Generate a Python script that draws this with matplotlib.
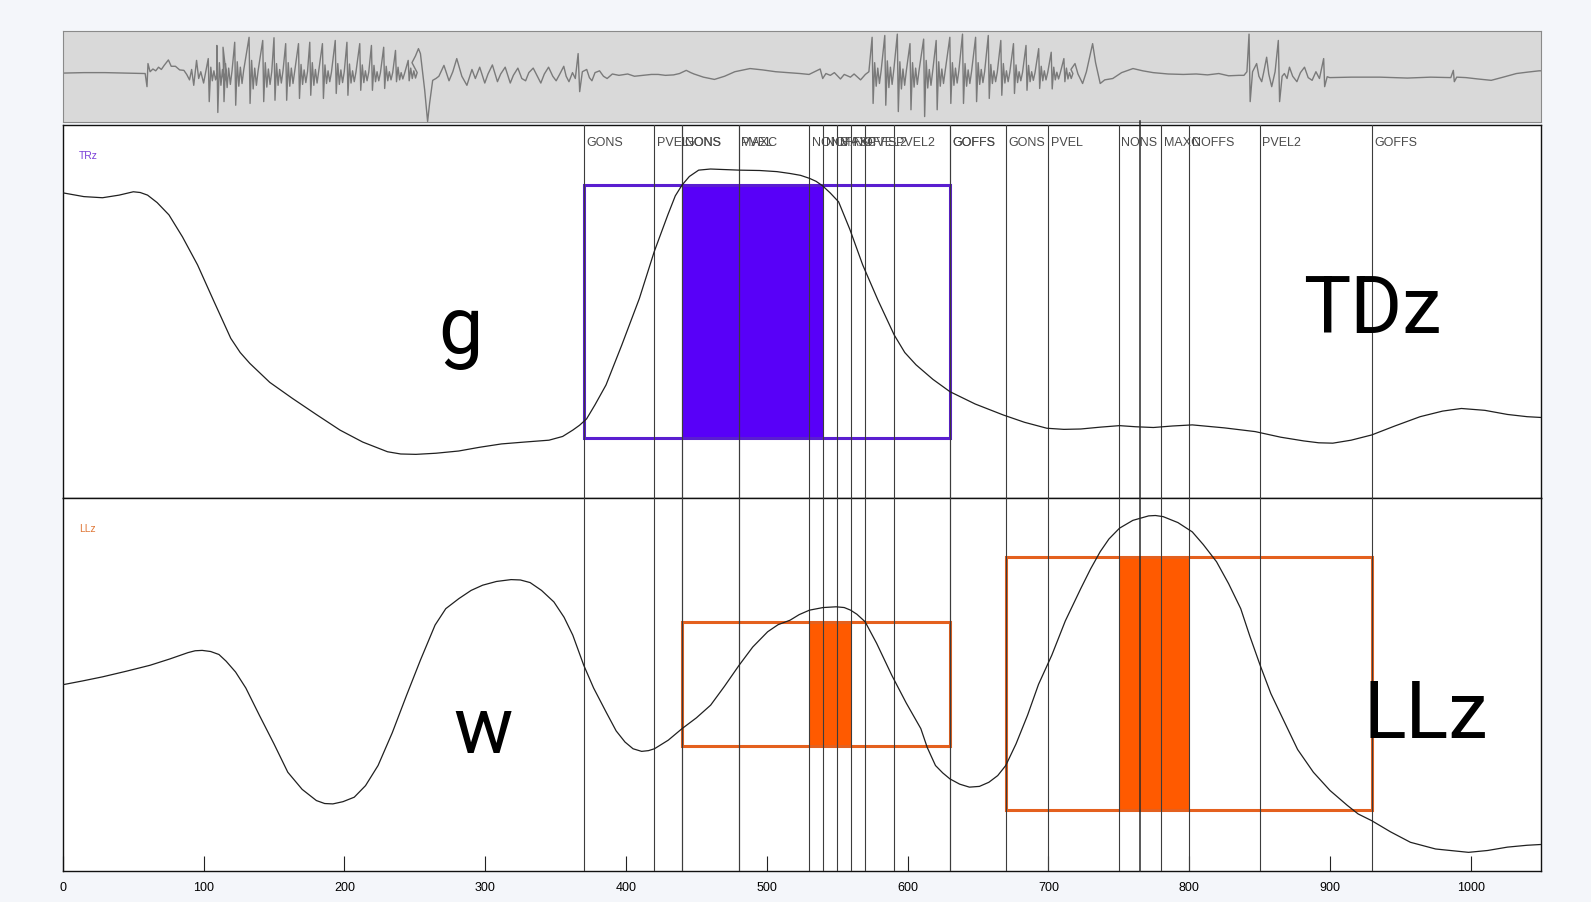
import numpy as np
import matplotlib.pyplot as plt
from matplotlib.patches import Rectangle
from matplotlib.lines import Line2D

# ---- donnees ----
# courbe TRz (x en ms, hauteur relative du panneau 0..1)
trz_x = [0.2, 15, 28.2, 40, 50.1, 55, 60.2, 67, 75.4, 85, 95.7, 107, 119.3, 126, 132.8, 147,
         163.1, 180, 196.9, 213, 230.6, 240, 250.8, 265, 281.2, 296, 311.6, 328, 345.3, 355,
         362.2, 367, 372, 378, 385.8, 397, 409.5, 420, 429.7, 435, 439.8, 445, 451.6, 460,
         480.3, 495, 507.2, 516.5, 524, 530.3, 535, 539.6, 545, 551, 559, 568.1, 579, 590.5,
         598, 606, 618, 630.1, 648, 668, 683, 698.9, 711, 723, 737, 750.5, 762, 774.6, 788,
         802.2, 825, 846.9, 865, 881.4, 892, 902, 915, 929.6, 946, 964, 980, 993.3, 1010,
         1026, 1040, 1049.4]
trz_y = [0.818, 0.808, 0.805, 0.812, 0.821, 0.819, 0.812, 0.792, 0.759, 0.700, 0.625, 0.530,
         0.428, 0.390, 0.361, 0.310, 0.267, 0.224, 0.182, 0.150, 0.124, 0.118, 0.117, 0.120,
         0.126, 0.136, 0.145, 0.150, 0.155, 0.165, 0.182, 0.195, 0.212, 0.250, 0.303, 0.410,
         0.535, 0.660, 0.759, 0.810, 0.839, 0.862, 0.879, 0.882, 0.879, 0.878, 0.875, 0.870,
         0.865, 0.857, 0.849, 0.837, 0.818, 0.794, 0.720, 0.625, 0.530, 0.437, 0.390, 0.357,
         0.318, 0.285, 0.252, 0.2225, 0.203, 0.187, 0.184, 0.185, 0.190, 0.194, 0.191, 0.189,
         0.193, 0.196, 0.188, 0.178, 0.163, 0.153, 0.148, 0.147, 0.155, 0.169, 0.193, 0.218,
         0.233, 0.240, 0.235, 0.224, 0.218, 0.216]

# courbe LLz
llz_x = [0.2, 14, 28.2, 45, 61.9, 76, 88.9, 94, 99, 105, 110.9, 116, 122.7, 130, 139.6, 150,
         159.8, 170, 180.1, 186, 191.8, 199, 207, 215, 223.9, 234, 244.1, 254, 264.4, 272,
         281.3, 290, 298.2, 308, 318.4, 325, 331.9, 340, 348.8, 356, 362.2, 370, 377, 385.8,
         393, 399.3, 405, 411.1, 416, 420.2, 430, 439.8, 450, 460.1, 470, 480.3, 490, 500.6,
         508, 516.5, 523, 530.3, 540, 549.2, 555, 559.5, 564, 569.8, 578, 588.8, 599, 609.4,
         614, 619.8, 625, 630.1, 637, 643.9, 651, 657.7, 664, 669.7, 677, 685.2, 693, 702.4,
         712, 723, 730, 736.8, 743, 750.5, 760, 771.2, 776, 781.5, 792, 802.2, 810, 819.4,
         828, 836.6, 843, 850.4, 858, 867.6, 877, 888.2, 900, 912.3, 920, 929.6, 943, 957.1,
         975, 998.4, 1012, 1026, 1040, 1049.4]
llz_y = [0.499, 0.509, 0.520, 0.535, 0.551, 0.568, 0.585, 0.590, 0.591, 0.588, 0.580, 0.562,
         0.533, 0.490, 0.417, 0.340, 0.264, 0.218, 0.188, 0.180, 0.179, 0.185, 0.197, 0.228,
         0.282, 0.370, 0.470, 0.565, 0.659, 0.703, 0.730, 0.752, 0.766, 0.776, 0.781, 0.780,
         0.773, 0.752, 0.721, 0.680, 0.632, 0.551, 0.490, 0.426, 0.375, 0.345, 0.327, 0.320,
         0.322, 0.327, 0.350, 0.381, 0.410, 0.444, 0.495, 0.551, 0.600, 0.641, 0.660, 0.672,
         0.687, 0.699, 0.706, 0.708, 0.706, 0.699, 0.688, 0.668, 0.610, 0.524, 0.450, 0.381,
         0.330, 0.282, 0.262, 0.246, 0.232, 0.224, 0.226, 0.237, 0.255, 0.282, 0.340, 0.417,
         0.500, 0.578, 0.670, 0.757, 0.810, 0.856, 0.890, 0.919, 0.940, 0.952, 0.953, 0.950,
         0.934, 0.909, 0.875, 0.829, 0.770, 0.703, 0.630, 0.551, 0.475, 0.399, 0.325, 0.264,
         0.215, 0.175, 0.152, 0.134, 0.104, 0.076, 0.058, 0.049, 0.054, 0.063, 0.068, 0.070]

# evenements (GONS, PVEL, NONS, MAXC, NOFFS, PVEL2, GOFFS)
event_names = ["GONS", "PVEL", "NONS", "MAXC", "NOFFS", "PVEL2", "GOFFS"]
trz_events = [370, 420, 440, 480, 540, 590, 630]
llz_events1 = [440, 480, 530, 550, 560, 570, 630]
llz_events2 = [670, 700, 750, 780, 800, 850, 930]
cursor_x = 765

trz_box = (0.160, 0.839)
llz_box1 = (0.334, 0.668)
llz_box2 = (0.163, 0.841)

# signal audio (amplitude relative, -100..100)
wave_pre_x = [0.5, 15, 30, 45, 58.5, 59.8, 60.5, 62, 64, 66, 68, 70, 72, 75, 77, 80, 83, 86,
              88, 90, 91.5, 93, 95, 96.5, 98, 100]
wave_pre_y = [7, 8, 8, 7, 6, -23, 28, 10, 16, 12, 20, 15, 24, 36, 22, 22, 14, 13, 4, -8, 15,
              -20, 35, -5, 10, -15]

p1_x = [103.3, 109.4, 113.8, 122.1, 132.3, 142.0, 150.0, 158.3, 167.4, 175.4, 184.4, 193.5,
        201.8, 210.9, 219.2, 227.9, 236.3, 245.3]
p1_up = [39, 68, 64, 75, 86, 79, 85, 72, 72, 75, 72, 79, 75, 72, 68, 64, 57, 35]
p1_dn = [-56, -80, -56, -64, -60, -56, -53, -53, -49, -42, -49, -38, -42, -31, -31, -27, -12, -10]
p1_n1 = [20, 30, 28, 32, 35, 30, 28, 30, 26, 30, 25, 28, 27, 25, 24, 22, 20, 18]
p1_n2 = [-10, -20, -25, -22, -28, -24, -20, -22, -18, -20, -16, -18, -15, -14, -12, -10, -8, -5]
p1_n3 = [12, 15, 18, 20, 18, 16, 15, 18, 14, 15, 12, 14, 12, 12, 10, 10, 8, 12]
p1_n4 = [-8, -15, -18, -16, -20, -18, -15, -16, -14, -15, -12, -14, -12, -10, -10, -8, -6, -4]
p1_n5 = [8, 10, 12, 14, 12, 10, 12, 11, 10, 12, 9, 10, 9, 9, 8, 8, 6, 8]

wave_mid_x = [248, 250.5, 252.6, 254, 257, 259.1, 260.5, 262.7, 265, 267.1, 270.7, 274.3, 277,
              279.8, 283.4, 287, 290.6, 293, 296.1, 299.7, 302, 305.1, 308.7, 311, 314.2, 317.8,
              320, 323.2, 326, 328.7, 331, 334.1, 337, 339.5, 342, 345, 348, 350.4, 353, 355.8,
              357.5, 359.5, 362, 364, 366, 367.1, 369, 372.1, 374, 375.8, 378, 381.2, 384,
              386.6, 390.3, 395, 401.2, 406, 412, 418, 422.9, 428, 433.8, 438, 442.8, 446,
              448.3, 455, 462.8, 470, 477.3, 488.1, 497, 506.3, 515, 523.6, 530, 537.9, 539.7,
              542, 545.1, 548, 552.3, 555, 559.4, 562, 566.6, 570, 572.5]
wave_mid_y = [30, 45, 61, 50, -30, -100, -60, -9, -5, 0, 24, -10, 10, 39, 0, -20, 15, -5, 20,
              -15, 5, 25, -12, 5, 20, -15, 2, 18, -5, -10, 8, 18, 0, -15, 5, 20, 0, -10, 5, 22,
              0, -12, 8, -5, 50, -34, 10, 15, -3, -10, 8, 12, 0, -5, 5, 2, 5, 0, 2, 4, 4, 2, 3,
              6, 13, 8, 5, -2, -7, 0, 10, 17, 14, 10, 8, 6, 4, 16, -5, 6, 2, 8, -6, 4, -2, 5,
              -8, 4, 10]

p2_x = [574.8, 583.8, 592.7, 601.7, 611.4, 620.3, 630.0, 639.0, 648.3, 657.3, 666.2, 675.2,
        684.1, 693.1, 702.0, 711.0]
p2_up = [86, 90, 93, 72, 82, 79, 86, 93, 86, 90, 79, 72, 68, 61, 53, 39]
p2_dn = [-60, -64, -78, -74, -89, -74, -60, -60, -56, -49, -42, -38, -31, -27, -28, -12]
p2_n1 = [30, 34, 32, 30, 35, 32, 30, 28, 30, 26, 28, 25, 24, 22, 20, 18]
p2_n2 = [-22, -25, -28, -24, -26, -22, -20, -22, -18, -16, -15, -14, -12, -10, -8, -6]
p2_n3 = [18, 20, 16, 18, 15, 16, 18, 14, 15, 12, 12, 10, 10, 12, 9, 8]
p2_n4 = [-16, -18, -20, -18, -20, -16, -15, -16, -14, -12, -12, -10, -9, -8, -6, -5]
p2_n5 = [12, 14, 12, 12, 11, 12, 12, 10, 10, 9, 9, 8, 8, 8, 7, 6]

wave_end_x = [716, 718.9, 721, 724.3, 727, 731.4, 733.5, 736.8, 740, 745.7, 752, 760.1, 767,
              774.4, 785, 795.9, 805, 813, 821, 828, 835.3, 838.9, 841, 842.5, 843.3, 845,
              847.9, 849.5, 851.5, 853, 855, 856.5, 858.6, 861, 863.3, 864.2, 866, 867.6,
              869.5, 871.2, 873.5, 876.5, 879, 881.9, 884.5, 887.3, 890, 892.5, 895.5, 896.2,
              898, 899.8, 915, 935.6, 955, 971.5, 985.8, 987.6, 988.3, 990, 996.6, 1005,
              1014.5, 1023, 1032.4, 1040, 1048.5, 1050]
wave_end_y = [15, 28, 5, -16, 10, 72, 30, -16, -8, -5, 8, 17, 12, 8, 5, 4, 5, 3, 6, 1, 2, 2,
              10, 93, -56, 10, 28, 0, -12, 10, 42, 5, -23, 10, 79, -56, 0, 6, -5, 20, 0, -12,
              8, 20, -3, -9, 10, -5, 39, -23, -1, -3, -2, -2, -4, -2, -3, 13, -12, -2, -3, -6,
              -9, -2, 6, 9, 12, 12]

ticks = list(range(0, 1001, 100))


def pulses(px, *vals):
    offsets = [0, 0.7, 1.8, 2.9, 4.0, 5.2, 6.4]
    xs, ys = [], []
    for i, x in enumerate(px):
        for off, v in zip(offsets, vals):
            xs.append(x + off)
            ys.append(v[i])
    return xs, ys


w1x, w1y = pulses(p1_x, p1_up, p1_dn, p1_n1, p1_n2, p1_n3, p1_n4, p1_n5)
w2x, w2y = pulses(p2_x, p2_up, p2_dn, p2_n1, p2_n2, p2_n3, p2_n4, p2_n5)
wave_x = wave_pre_x + w1x + wave_mid_x + w2x + wave_end_x
wave_y = wave_pre_y + w1y + wave_mid_y + w2y + wave_end_y

# ---- figure ----
W, H = 1591, 902
fig = plt.figure(figsize=(W / 100, H / 100), dpi=100)
fig.patch.set_facecolor('#f4f6fa')

left = 62.8 / W
width = 1478.4 / W


def rect(top, bottom):
    return [left, 1 - bottom / H, width, (bottom - top) / H]


ax_w = fig.add_axes(rect(30.5, 122))
ax_t = fig.add_axes(rect(125, 498))
ax_l = fig.add_axes(rect(498, 870.6), sharex=ax_t)

# signal audio
ax_w.set_facecolor('#d9d9d9')
ax_w.plot(wave_x, wave_y, color='#7a7a7a', lw=1.0)
ax_w.set_xlim(0, 1050)
ax_w.set_ylim(-101, 101)
ax_w.set_xticks([])
ax_w.set_yticks([])
for s in ax_w.spines.values():
    s.set_color('#8a8a8a')

blue_fill, blue_edge = '#5800f8', '#5a1ed0'
orange_fill, orange_edge = '#ff5a00', '#e4601e'


def gesture(ax, ev, box, fill, edge):
    y0, y1 = box
    ax.add_patch(Rectangle((ev[2], y0), ev[4] - ev[2], y1 - y0, facecolor=fill,
                           edgecolor='none', zorder=1))
    ax.add_patch(Rectangle((ev[0], y0), ev[6] - ev[0], y1 - y0, facecolor='none',
                           edgecolor=edge, lw=2.2, zorder=2))


gesture(ax_t, trz_events, trz_box, blue_fill, blue_edge)
gesture(ax_l, llz_events1, llz_box1, orange_fill, orange_edge)
gesture(ax_l, llz_events2, llz_box2, orange_fill, orange_edge)

for ev in (trz_events, llz_events1, llz_events2):
    for x, name in zip(ev, event_names):
        for ax in (ax_t, ax_l):
            ax.axvline(x, color='#3c3c3c', lw=0.8, zorder=3)
        ax_t.text(x + 1.8, 0.951, name, fontsize=9, color='#4a4a4a', va='center',
                  family='Liberation Sans', zorder=4)

ax_t.plot(trz_x, trz_y, color='#202020', lw=0.9, zorder=5)
ax_l.plot(llz_x, llz_y, color='#202020', lw=0.9, zorder=5)

# curseur
cx = (62.8 + cursor_x * 1.408) / W
fig.add_artist(Line2D([cx, cx], [1 - 870.6 / H, 1 - 121 / H], color='#2a2a2a', lw=1.1))

ax_t.text(0.011, 0.917, 'TRz', transform=ax_t.transAxes, fontsize=7.5, color='#7a3ed8',
          family='Liberation Sans', va='center')
ax_l.text(0.011, 0.917, 'LLz', transform=ax_l.transAxes, fontsize=7.5, color='#e07838',
          family='Liberation Sans', va='center')

for ax in (ax_t, ax_l):
    ax.set_ylim(0, 1)
    ax.set_yticks([])
    ax.set_facecolor('white')
    for s in ax.spines.values():
        s.set_color('#111111')
        s.set_linewidth(1.0)
ax_t.tick_params(axis='x', bottom=False, labelbottom=False)
ax_l.set_xlim(0, 1050)
ax_l.set_xticks(ticks)
ax_l.set_xticklabels([str(t) for t in ticks], fontsize=9, family='Liberation Sans')
ax_l.tick_params(axis='x', direction='in', length=10.5, width=0.8, pad=8, color='#222')

# grandes etiquettes
big = dict(fontsize=57, family='Roboto', color='black', va='baseline', ha='left')
fig.text(438 / W, 1 - 353 / H, 'g', **big)
fig.text(1303 / W, 1 - 333 / H, 'TDz', **big)
fig.text(453 / W, 1 - 753 / H, 'w', **big)
fig.text(1363 / W, 1 - 738 / H, 'LLz', **big)

fig.savefig('out.png', dpi=100, facecolor=fig.get_facecolor())
